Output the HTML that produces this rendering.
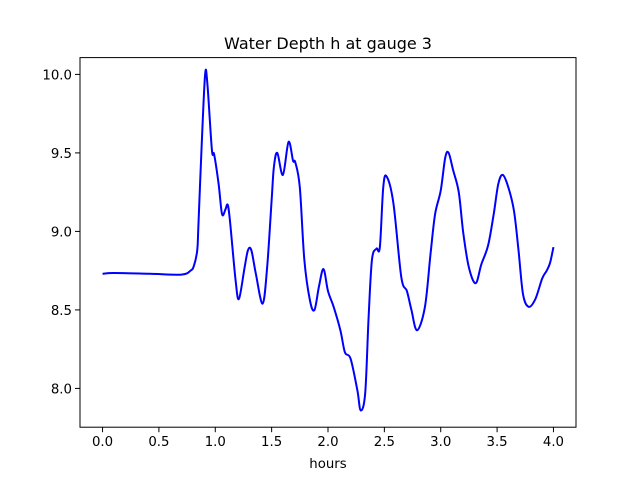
<!DOCTYPE html>
<html><head><meta charset="utf-8"><style>
body{margin:0;background:#fff}
svg{display:block;font-family:"DejaVu Sans","Liberation Sans",sans-serif}
</style></head><body>
<svg width="640" height="480" viewBox="0 0 640 480">
<rect width="640" height="480" fill="#fff"/>
<text x="328" y="49" text-anchor="middle" font-size="16">Water Depth h at gauge 3</text>
<g id="plot"></g>
<text x="328" y="468" text-anchor="middle" font-size="13.3">hours</text>
</svg>
<script>
const hours=[0,0.1,0.42,0.70,0.78,0.81,0.84,0.85,0.88,0.91,0.93,0.97,0.99,1.03,1.06,1.09,1.11,1.13,1.18,1.21,1.26,1.29,1.32,1.36,1.42,1.46,1.50,1.52,1.55,1.60,1.65,1.69,1.71,1.75,1.79,1.84,1.88,1.92,1.96,2.00,2.05,2.11,2.15,2.20,2.26,2.29,2.33,2.36,2.39,2.43,2.46,2.49,2.52,2.58,2.65,2.70,2.74,2.79,2.86,2.91,2.95,3.00,3.04,3.07,3.11,3.16,3.20,3.25,3.31,3.36,3.42,3.47,3.51,3.55,3.60,3.65,3.69,3.73,3.78,3.84,3.90,3.94,3.97,4.00];
const depth=[8.73,8.735,8.73,8.725,8.75,8.78,8.88,9.03,9.56,10.00,9.94,9.52,9.49,9.30,9.11,9.14,9.17,9.07,8.69,8.57,8.77,8.88,8.88,8.73,8.54,8.77,9.20,9.41,9.50,9.36,9.57,9.45,9.44,9.28,8.82,8.56,8.50,8.65,8.76,8.62,8.52,8.37,8.23,8.19,7.99,7.86,7.97,8.45,8.82,8.89,8.90,9.28,9.35,9.18,8.71,8.62,8.50,8.37,8.52,8.86,9.11,9.26,9.47,9.50,9.39,9.25,8.99,8.77,8.67,8.79,8.91,9.11,9.30,9.36,9.28,9.13,8.88,8.60,8.52,8.57,8.70,8.75,8.80,8.90];
const xTicks=[0,0.5,1.0,1.5,2.0,2.5,3.0,3.5,4.0];
const yTicks=[8.0,8.5,9.0,9.5,10.0];
const L=80,R=576,T=57.6,B=427.2;
const xmin=-0.2,xmax=4.2,ymin=7.753,ymax=10.107;
const sx=v=>L+(v-xmin)/(xmax-xmin)*(R-L);
const sy=v=>B-(v-ymin)/(ymax-ymin)*(B-T);
const NS="http://www.w3.org/2000/svg";
const g=document.getElementById('plot');
function mk(t,a){const e=document.createElementNS(NS,t);for(const k in a)e.setAttribute(k,a[k]);g.appendChild(e);return e;}
let d='';
for(let i=0;i<hours.length;i++){
  const x=sx(hours[i]),y=sy(depth[i]);
  if(i===0){d='M'+x+' '+y;}else{
    const x0=sx(hours[Math.max(i-2,0)]),y0=sy(depth[Math.max(i-2,0)]);
    const x1=sx(hours[i-1]),y1=sy(depth[i-1]);
    const x3=sx(hours[Math.min(i+1,hours.length-1)]),y3=sy(depth[Math.min(i+1,hours.length-1)]);
    d+=` C${x1+(x-x0)/6} ${y1+(y-y0)/6} ${x-(x3-x1)/6} ${y-(y3-y1)/6} ${x} ${y}`;
  }
}
const line=mk('path',{d:d,fill:'none',stroke:'#0000ff','stroke-width':2,'stroke-linejoin':'round'});


const frame=mk('rect',{x:L,y:T,width:R-L,height:B-T,fill:'none',stroke:'#000','stroke-width':1});


xTicks.forEach(v=>{
  const x=sx(v);
  const t=mk('line',{x1:x,x2:x,y1:B,y2:B+5,stroke:'#000'});
  
  
  const l=mk('text',{x:x,y:B+19,'text-anchor':'middle','font-size':13.3});
  l.textContent=v.toFixed(1);
  
  
});
yTicks.forEach(v=>{
  const y=sy(v);
  const t=mk('line',{x1:L-5,x2:L,y1:y,y2:y,stroke:'#000'});
  
  
  const l=mk('text',{x:L-8,y:y+5,'text-anchor':'end','font-size':13.3});
  l.textContent=v.toFixed(1);
  
  
});
</script>
</body></html>
